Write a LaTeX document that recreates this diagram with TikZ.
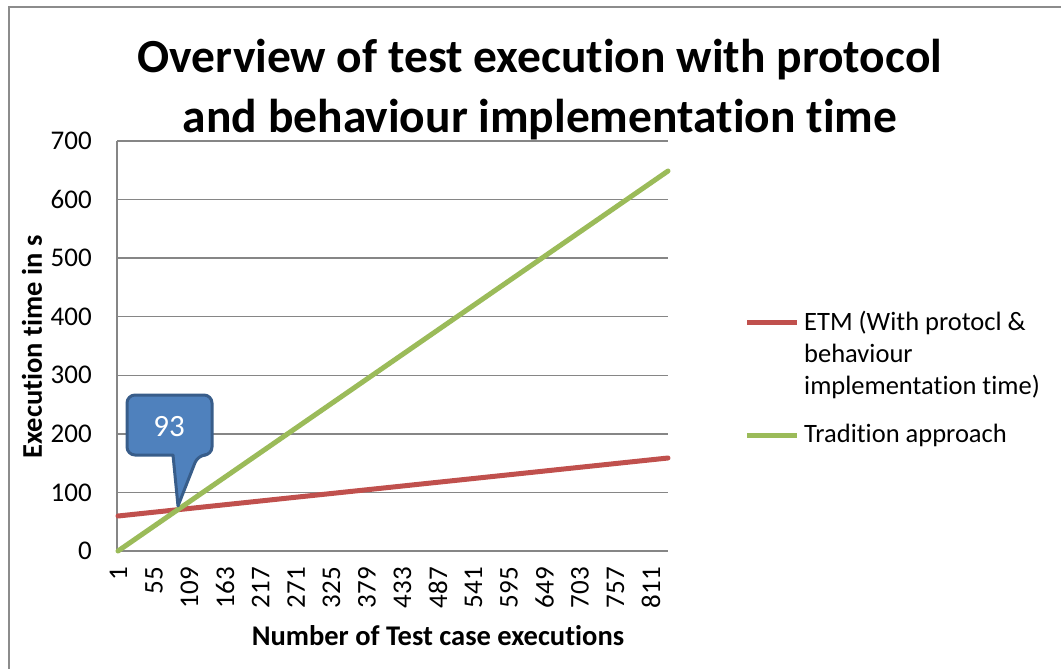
\documentclass[tikz,border=0pt]{standalone}
\usepackage{fontspec}
\setmainfont{Carlito}[Ligatures=NoCommon]
\definecolor{gridgray}{HTML}{868686}
\definecolor{etmred}{HTML}{C0504D}
\definecolor{tradgreen}{HTML}{9BBB59}
\definecolor{calloutblue}{HTML}{4F81BD}
\definecolor{calloutedge}{HTML}{385D8A}
\definecolor{framegray}{HTML}{8C8C8C}

\begin{document}
\begin{tikzpicture}[x=1pt,y=-1pt,
    grid line/.style={gridgray,line width=1.5pt},
    series/.style={line width=5pt,line cap=round},
    ticklabel/.style={font=\fontsize{27}{32}\selectfont,inner sep=0pt},
    axislabel/.style={font=\fontsize{28.5}{34}\selectfont\bfseries,inner sep=0pt}]
        \useasboundingbox (0,0) rectangle (1061,669);
        % frame of the chart (top and left edge)
        \draw[framegray,line width=2pt] (9,669) -- (9,7.5) -- (1061,7.5);
        % title
        \node[font=\fontsize{47.5}{59}\selectfont\bfseries,anchor=base,inner sep=0pt] (title1) at (540,73) {Overview of test execution with protocol};
        \node[font=\fontsize{47.5}{59}\selectfont\bfseries,anchor=base,inner sep=0pt] (title2) at (540,132) {and behaviour implementation time};
        % grid and axes
        \foreach \j in {0,...,7} {
            \pgfmathtruncatemacro\val{100*\j}
            \draw[grid line] (117,{551-58.57*\j}) -- (668,{551-58.57*\j});
            \node[ticklabel,anchor=east] (yt\j) at (92,{551-58.57*\j}) {\val};
        }
        \draw[grid line] (117,141) -- (117,551);
        \foreach \k in {0,...,15} {
            \pgfmathtruncatemacro\lab{1+54*\k}
            \node[ticklabel,rotate=90,anchor=east] (xt\k) at ({118.5+35.5*\k},567) {\lab};
        }
        \node[axislabel,rotate=90] (ylabel) at (32,347) {Execution time in s};
        \node[axislabel] (xlabel) at (438,636) {Number of Test case executions};
        % data series
        \draw[series,etmred] (118,516) -- (668,458);
        \draw[series,tradgreen] (118,551) -- (668,171);
        % callout at the crossing
        \draw[calloutedge,fill=calloutblue,line width=3pt,line join=round]
            (127,425) [rounded corners=8pt] -- (127,395) -- (212,395) -- (212,455) -- (198,455)
            [sharp corners] -- (178,506) -- (173,455) [rounded corners=8pt] -- (127,455) -- cycle;
        \node[font=\fontsize{31}{36}\selectfont,text=white] (crossing) at (169,427) {93};
        % legend
        \draw[series,etmred,line cap=butt] (747,322) -- (797,322);
        \node[font=\fontsize{26.5}{32}\selectfont,anchor=west,align=left,inner sep=0pt] (etmkey) at (804,355) {ETM (With protocl \&\\behaviour\\implementation time)};
        \draw[series,tradgreen,line cap=butt] (747,435) -- (797,435);
        \node[font=\fontsize{26.5}{32}\selectfont,anchor=west,inner sep=0pt] (tradkey) at (804,435) {Tradition approach};
    \end{tikzpicture}
\end{document}
